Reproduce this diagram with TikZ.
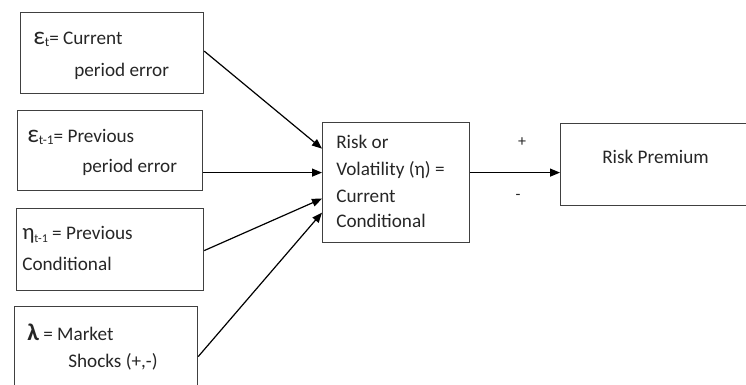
\documentclass[tikz,border=0pt]{standalone}
\usepackage{fontspec}
\setmainfont{Carlito}
\usetikzlibrary{arrows.meta}
\begin{document}
\begin{tikzpicture}[x=0.75pt,y=-0.75pt,
  box/.style={draw=black!75,line width=0.9pt,rectangle,inner sep=0pt,anchor=north west},
  txt/.style={anchor=west,inner sep=0pt,font=\fontsize{14.4}{17}\selectfont,text=black!85},
  conn/.style={draw=black,line width=0.9pt,-{Triangle[length=7.5pt,width=6pt]}},
  sgn/.style={inner sep=0pt,font=\fontsize{12}{14}\selectfont,text=black!85}]
\useasboundingbox (0,0) rectangle (746,385);
\clip (0,0) rectangle (746,385);
% boxes
\node[box,minimum width=137.25pt,minimum height=60.75pt] (b1) at (20,12) {};
\node[box,minimum width=138.75pt,minimum height=60pt] (b2) at (17,110) {};
\node[box,minimum width=140.25pt,minimum height=61.5pt] (b3) at (16,208) {};
\node[box,minimum width=137.25pt,minimum height=72pt] (b4) at (14,306) {};
\node[box,minimum width=110.25pt,minimum height=90pt] (c) at (322,122) {};
\node[box,minimum width=150pt,minimum height=61.5pt] (rp) at (560,123) {};
% texts
\node[txt] (t1a) at (33,39) {{\fontsize{19}{19}\selectfont ε}\raisebox{-0.25ex}{\fontsize{10}{10}\selectfont t}= Current};
\node[txt] (t1b) at (74,71) {period error};
\node[txt] (t2a) at (27,137) {{\fontsize{19}{19}\selectfont ε}\raisebox{-0.25ex}{\fontsize{10}{10}\selectfont t-1}= Previous};
\node[txt] (t2b) at (82,167) {period error};
\node[txt] (t3a) at (22,235) {{\fontsize{17}{17}\selectfont η}\raisebox{-0.25ex}{\fontsize{9}{9}\selectfont t-1} = Previous};
\node[txt] (t3b) at (22,264) {Conditional};
\node[txt] (t4a) at (27,332) {{\fontsize{18}{18}\selectfont\bfseries λ} = Market};
\node[txt] (t4b) at (68,362) {Shocks (+,-)};
\node[txt] (tc1) at (336,142) {Risk or};
\node[txt] (tc2) at (336,170) {Volatility (η) =};
\node[txt] (tc3) at (336,196) {Current};
\node[txt] (tc4) at (336,221) {Conditional};
\node[txt] (trp) at (602,157) {Risk Premium};
\node[sgn] (plus) at (522,142) {+};
\node[sgn] (minus) at (518,197) {-};
% connectors
\draw[conn] ([yshift=1.5pt]b1.east) -- ([yshift=25.5pt]c.west);
\draw[conn] ([yshift=-16.5pt]b2.east) -- ([yshift=7.5pt]c.west);
\draw[conn] ([yshift=-0.75pt]b3.east) -- ([yshift=-12pt]c.west);
\draw[conn] ([yshift=-1.5pt]b4.east) -- ([yshift=-22.5pt]c.west);
\draw[conn] ([yshift=7.5pt]c.east) -- ([yshift=-6pt]rp.west);
\end{tikzpicture}
\end{document}
